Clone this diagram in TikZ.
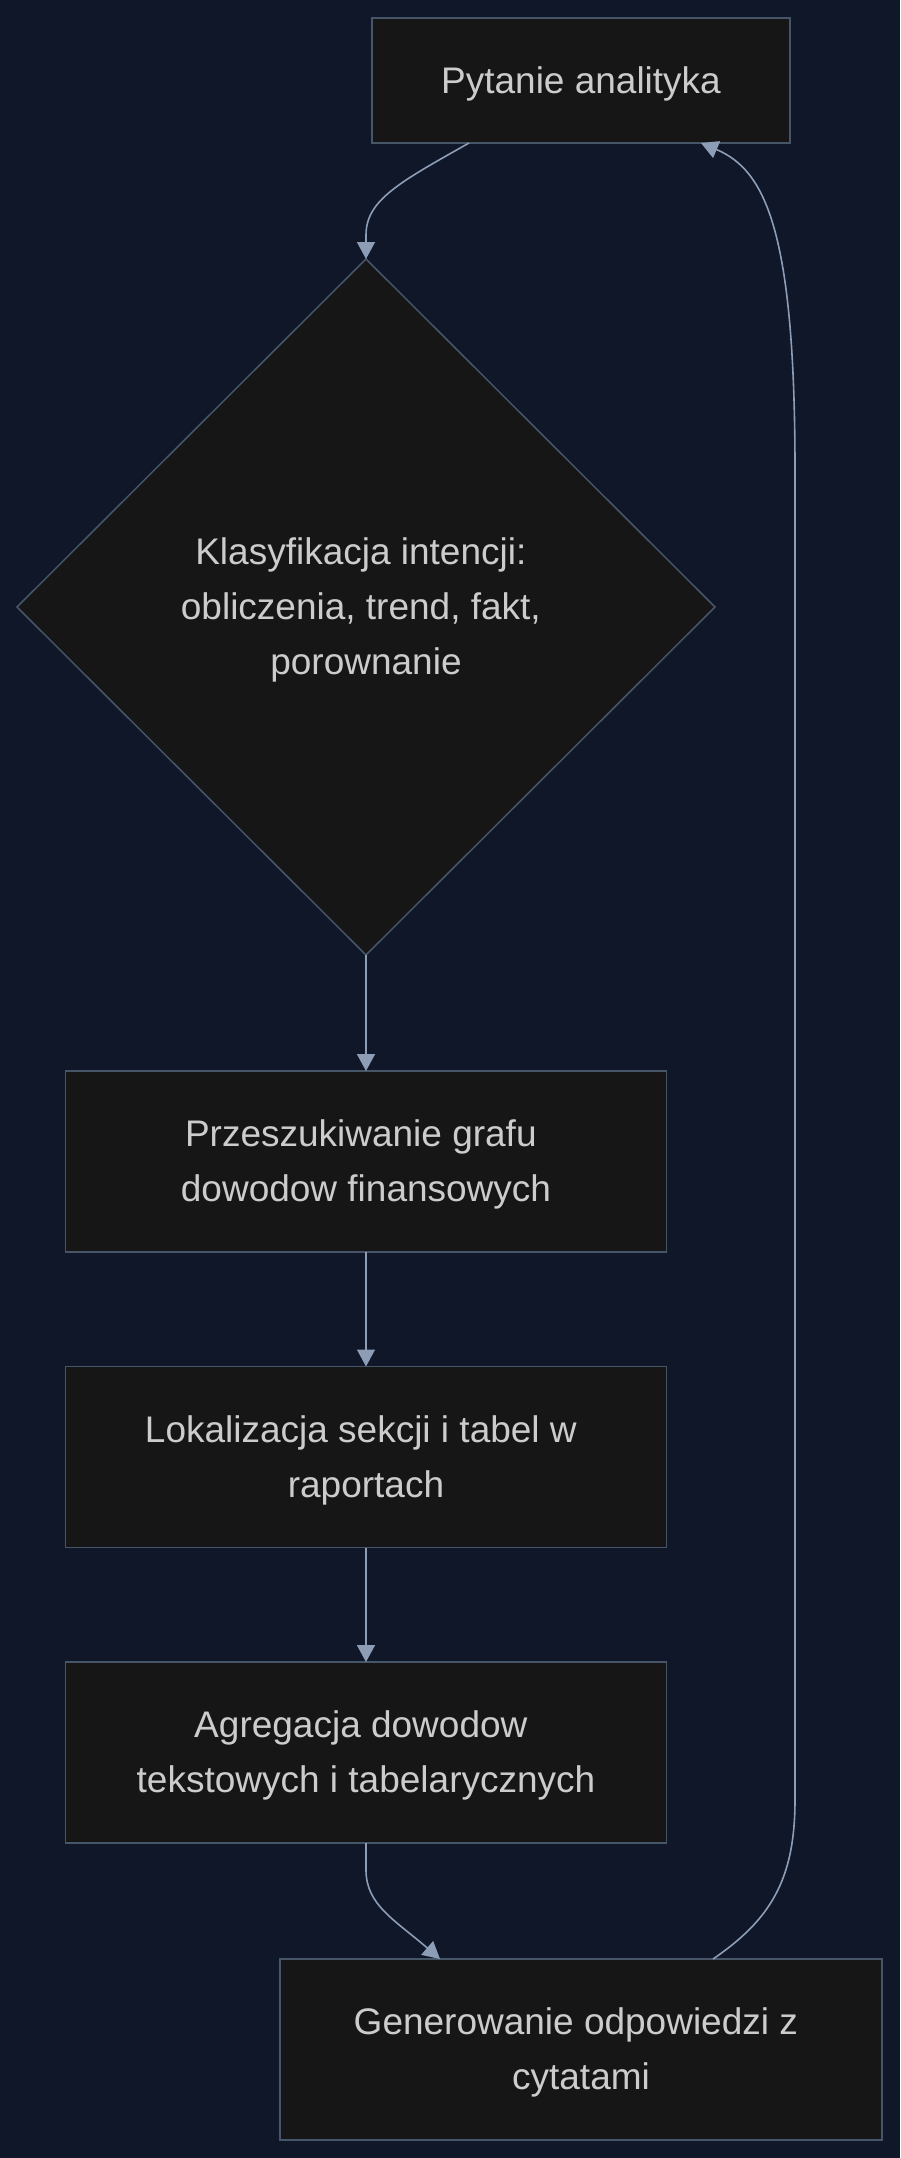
\documentclass[tikz,border=0pt]{standalone}
\usepackage{fontspec}
\setmainfont{Liberation Sans}
\usetikzlibrary{arrows.meta,shapes.geometric}
\definecolor{bgc}{HTML}{0F1729}
\definecolor{boxfill}{HTML}{161616}
\definecolor{boxline}{HTML}{475569}
\definecolor{txt}{HTML}{CCCCCC}
\definecolor{edge}{HTML}{8E9DB6}
\tikzset{
  lbl/.style={text=txt, font=\fontsize{37pt}{55pt}\selectfont, align=center, inner sep=0pt, outer sep=0pt, yshift=-3pt},
  shapebase/.style={draw=boxline, fill=boxfill, line width=1.5pt, inner sep=0pt, outer sep=0pt},
  procbox/.style={shapebase, rectangle},
  decbox/.style={shapebase, diamond, minimum width=698pt, minimum height=696pt},
  txtin/.style={label={[lbl]center:{#1}}},
  conn/.style={draw=edge, line width=1.6pt, -{Triangle[length=17pt,width=18pt]}}
}
\newcommand{\tsp}{\kern0.278em}
\begin{document}
\begin{tikzpicture}[x=1pt,y=-1pt]
\useasboundingbox[fill=bgc] (0,0) rectangle (900,2158);
\node[procbox, minimum width=418pt, minimum height=125pt, txtin={Pytanie analityka}] (b1) at (581,80.5) {};
\node[decbox, txtin={Klasyfikacja intencji:\tsp\\obliczenia, trend, fakt,\tsp\\porownanie}] (d) at (366,607) {};
\node[procbox, minimum width=601pt, minimum height=181pt, txtin={Przeszukiwanie grafu\tsp\\dowodow finansowych}] (b2) at (366,1161.5) {};
\node[procbox, minimum width=601pt, minimum height=181pt, txtin={Lokalizacja sekcji i tabel w\tsp\\raportach}] (b3) at (366,1457) {};
\node[procbox, minimum width=601pt, minimum height=181pt, txtin={Agregacja dowodow\tsp\\tekstowych i tabelarycznych}] (b4) at (366,1752.5) {};
\node[procbox, minimum width=602pt, minimum height=181pt, txtin={Generowanie odpowiedzi z\tsp\\cytatami}] (b5) at (581,2049.5) {};
% connectors
\draw[conn] ([xshift=-112pt]b1.south) .. controls (400,182) and (366,200) .. (366,235) -- (d.north);
\draw[conn] (d.south) -- (b2.north);
\draw[conn] (b2.south) -- (b3.north);
\draw[conn] (b3.south) -- (b4.north);
\draw[conn] (b4.south) -- (366,1870) .. controls (366,1905) and (395,1920) .. ([xshift=-141pt]b5.north);
\draw[conn] ([xshift=132pt]b5.north) .. controls (770,1920) and (795,1880) .. (795,1800) -- (795,470) .. controls (795,230) and (765,170) .. ([xshift=120pt]b1.south);
\end{tikzpicture}
\end{document}
